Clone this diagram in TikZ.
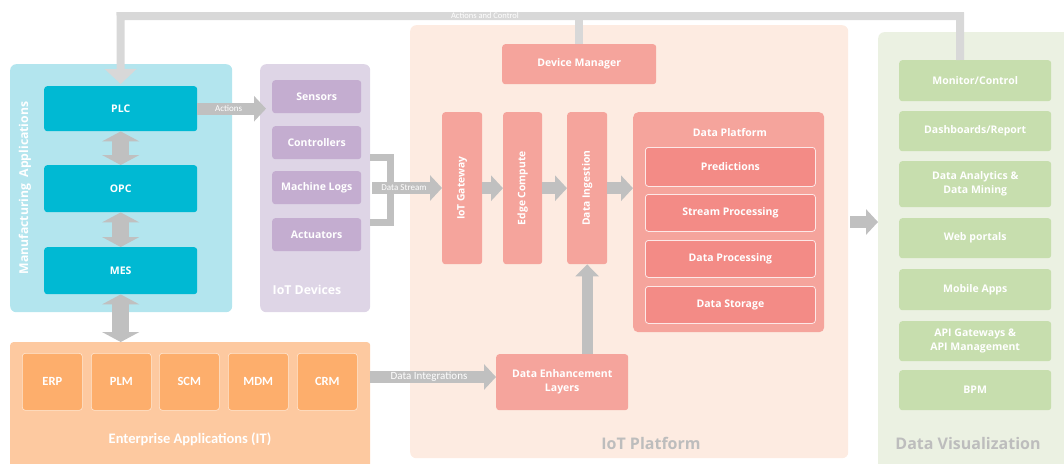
\documentclass[tikz,border=0pt]{standalone}
\usepackage{fontspec}
\setmainfont{Open Sans}
\newfontfamily\calib{Carlito}
\usetikzlibrary{arrows.meta}
\definecolor{manbg}{HTML}{B3E5EE}
\definecolor{manitem}{HTML}{00B9D3}
\definecolor{devbg}{HTML}{DED5E6}
\definecolor{devitem}{HTML}{C4ADD0}
\definecolor{platbg}{HTML}{FDEBE1}
\definecolor{salmon}{HTML}{F5A49C}
\definecolor{dpitem}{HTML}{F38B86}
\definecolor{entbg}{HTML}{FDC9A0}
\definecolor{entitem}{HTML}{FDAE6C}
\definecolor{vizbg}{HTML}{EBF1E2}
\definecolor{vizitem}{HTML}{C7DEAE}
\definecolor{arrowgray}{HTML}{C0C0C0}
\definecolor{topgray}{HTML}{D8D8D8}
\definecolor{titlegray}{HTML}{BDBDBD}
\begin{document}
\begin{tikzpicture}[x=1pt,y=-1pt,
  bx/.style={rounded corners=3pt, inner sep=0pt, anchor=north west, text=white,
    font=\bfseries\fontsize{10.5}{14}\selectfont, align=center},
  sz/.style 2 args={minimum width=#1pt, minimum height=#2pt},
  panel/.style={rounded corners=6pt, inner sep=0pt, anchor=north west},
  garrow/.style={draw=arrowgray, line width=12pt, -{Triangle[length=12pt,width=25pt]}},
  dbl/.style={draw=arrowgray, line width=17pt, {Triangle[length=10pt,width=37pt]}-{Triangle[length=10pt,width=37pt]}},
  topline/.style={draw=topgray, line width=8pt},
  small/.style={text=white, font=\calib\fontsize{9}{10}\selectfont, inner sep=1pt},
  vtext/.style={text=white, rotate=90, font=\bfseries\fontsize{10.3}{12}\selectfont},
  entbox/.style={bx, fill=entitem, draw=white!70!entitem, line width=0.6pt, sz={60}{57}, font=\calib\bfseries\fontsize{12.5}{14}\selectfont},
  dpbox/.style={bx, fill=dpitem, draw=white!80!dpitem, line width=0.8pt},
  ptitle/.style={text=titlegray, font=\bfseries\fontsize{16}{18}\selectfont}
]
\useasboundingbox (0,0) rectangle (1064,463);

% panels
\node[panel, fill=manbg, sz={222}{248}] (manp) at (10,64) {};
\node[panel, fill=devbg, sz={110}{248}] (devp) at (260,64) {};
\node[panel, fill=platbg, sz={438}{433}] (platp) at (410,25) {};
\node[panel, fill=vizbg, sz={192}{440}] (vizp) at (878,32) {};
\node[panel, rounded corners=3pt, fill=entbg, sz={360}{130}] (entp) at (10,342) {};

% manufacturing
\node[bx, fill=manitem, sz={153}{45}] (plc) at (44,86) {PLC};
\node[bx, fill=manitem, sz={153}{47}] (opc) at (44,165) {OPC};
\node[bx, fill=manitem, sz={153}{47}] (mes) at (44,247) {MES};
\node[text=white, rotate=90, font=\bfseries\fontsize{12.2}{14}\selectfont] (mant) at (25,188) {Manufacturing\ \ Applications};

% IoT devices
\node[bx, fill=devitem, sz={89}{33}] (sens) at (272,80) {Sensors};
\node[bx, fill=devitem, sz={89}{33}] (ctrl) at (272,126) {Controllers};
\node[bx, fill=devitem, sz={89}{33}] (logs) at (272,171) {Machine Logs};
\node[bx, fill=devitem, sz={89}{33}] (act) at (272,218) {Actuators};
\node[text=white, font=\bfseries\fontsize{12.3}{14}\selectfont] (devt) at (307,290) {IoT Devices};

% IoT platform
\node[bx, fill=salmon, sz={154}{40}] (dm) at (502,44) {Device Manager};
\node[bx, fill=salmon, sz={40}{152}] (gw) at (442,112) {};
\node[vtext] (gwt) at (gw.center) {IoT Gateway};
\node[bx, fill=salmon, sz={39}{152}] (edge) at (503,112) {};
\node[vtext] (edget) at (edge.center) {Edge Compute};
\node[bx, fill=salmon, sz={40}{152}] (ing) at (567,112) {};
\node[vtext] (ingt) at (ing.center) {Data Ingestion};
\node[bx, rounded corners=5pt, fill=salmon, sz={191}{220}] (dp) at (633,112) {};
\node[text=white, font=\bfseries\fontsize{10.5}{12}\selectfont] (dpt) at (730,133) {Data Platform};
\node[dpbox, sz={170}{39}] (pred) at (645,147) {Predictions};
\node[dpbox, sz={170}{37}] (strm) at (645,194) {Stream Processing};
\node[dpbox, sz={170}{37}] (proc) at (645,240) {Data Processing};
\node[dpbox, sz={170}{37}] (stor) at (645,286) {Data Storage};
\node[bx, fill=salmon, sz={132}{56}] (enh) at (496,354) {Data Enhancement\\Layers};
\node[ptitle] (platt) at (651,443) {IoT Platform};

% enterprise
\node[entbox] (erp) at (22,353) {ERP};
\node[entbox] (plm) at (91,353) {PLM};
\node[entbox] (scm) at (159,353) {SCM};
\node[entbox] (mdm) at (228,353) {MDM};
\node[entbox] (crm) at (297,353) {CRM};
\node[text=white, font=\calib\bfseries\fontsize{14.5}{16}\selectfont] (entt) at (190,439) {Enterprise Applications (IT)};

% visualization
\node[bx, fill=vizitem, sz={152}{41}] (mon) at (899,60) {Monitor/Control};
\node[bx, fill=vizitem, sz={152}{40}] (dash) at (899,111) {Dashboards/Report};
\node[bx, fill=vizitem, sz={152}{46}] (dam) at (899,161) {Data Analytics \&\\Data Mining};
\node[bx, fill=vizitem, sz={152}{40}] (web) at (899,218) {Web portals};
\node[bx, fill=vizitem, sz={152}{41}] (mob) at (899,269) {Mobile Apps};
\node[bx, fill=vizitem, sz={152}{40}] (api) at (899,321) {API Gateways \&\\API Management};
\node[bx, fill=vizitem, sz={152}{40}] (bpm) at (899,370) {BPM};
\node[ptitle] (vizt) at (968,443) {Data Visualization};

% top connector
\coordinate (tr) at (960,16);
\coordinate (tl) at (120.5,16);
\draw[topline, -{Triangle[length=15pt,width=31pt]}] ([xshift=-15pt]mon.north) -- (tr) -- (tl) -- ([yshift=2pt]plc.north);
\draw[topline] (dm.north) -- (dm.north |- tr);
\node[small, font=\calib\fontsize{8.5}{9}\selectfont, fill=topgray, inner sep=0.5pt] (aclab) at (485,16) {Actions and Control};

% manufacturing arrows
\draw[dbl] (plc.south) -- (opc.north);
\draw[dbl] (opc.south) -- (mes.north);
\draw[dbl] (mes.south) -- (mes.south |- entp.north);

% actions
\draw[garrow] (plc.east) -- ([xshift=-6pt]plc.east -| sens.west) node[small, midway, xshift=-3pt] (actl) {Actions};

% data stream bracket
\coordinate (bt) at (370,157);
\coordinate (bb) at (370,222);
\coordinate (bm) at (390,157);
\draw[draw=arrowgray, line width=7pt] (bt) -- (bm) -- (bm |- bb) -- (bb);
\coordinate (ds) at (372,188);
\draw[garrow] (ds) -- (ds -| gw.west) node[small, midway, xshift=-3pt] (dsl) {Data Stream};

% platform arrows
\draw[garrow] (gw.east) -- (edge.west);
\draw[garrow] (edge.east) -- (ing.west);
\draw[garrow] (ing.east) -- (ing.east -| dp.west);
\draw[draw=arrowgray, line width=11pt, -{Triangle[length=12pt,width=23pt]}] (ing.south |- enh.north) -- (ing.south);

% data integrations
\coordinate (di) at (370,377);
\draw[garrow] (di) -- (di -| enh.west) node[small, midway, xshift=-4pt, font=\calib\fontsize{11}{12}\selectfont] (dil) {Data Integrations};

% platform to viz
\coordinate (pv) at (850,222);
\draw[garrow] (pv) -- (pv -| vizp.west);
\end{tikzpicture}
\end{document}
